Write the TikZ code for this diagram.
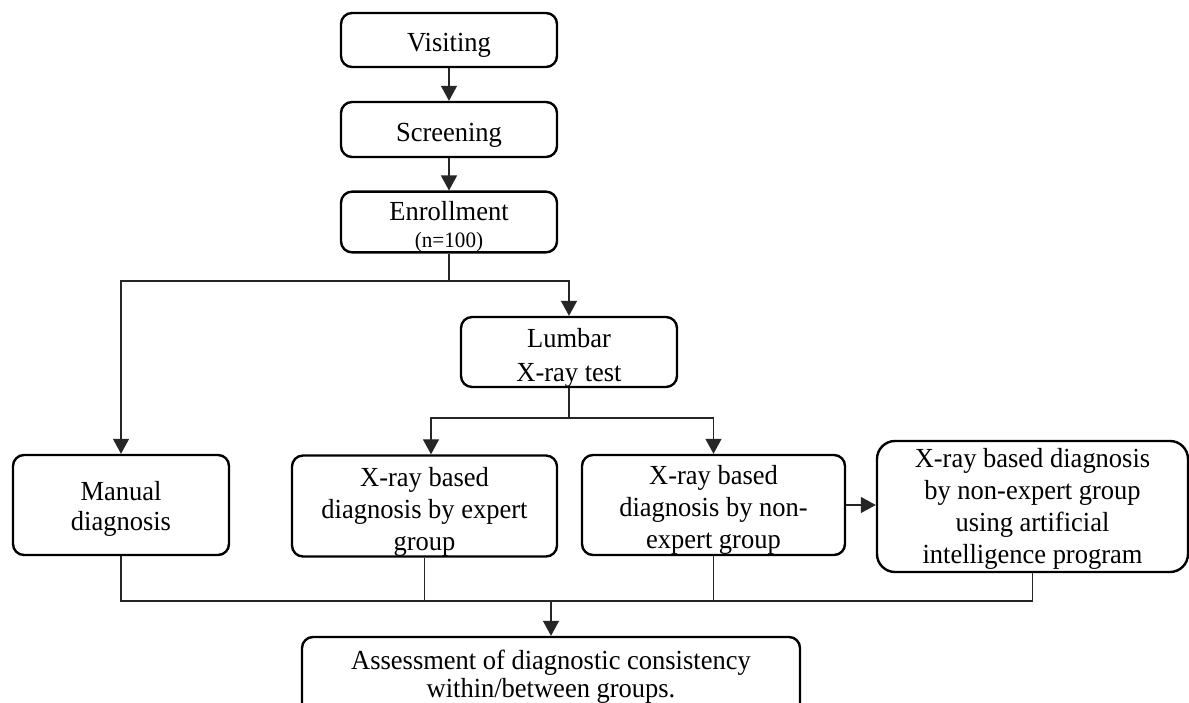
\documentclass[tikz,border=0pt]{standalone}
\usepackage{fontspec}
\setmainfont[FakeStretch=0.96]{Liberation Serif}
\usetikzlibrary{arrows.meta,calc}
\newcommand{\sdn}[1]{\rule{0pt}{#1}}
\begin{document}
\begin{tikzpicture}[x=1pt,y=1pt,
  box/.style={draw=black, line width=2.4pt, rounded corners=11pt, align=center, inner sep=0pt,
    font=\fontsize{27.6}{32}\selectfont},
  conn/.style={draw=black!85, line width=1.3pt},
  arr/.style={conn, -{Triangle[length=15pt,width=16pt]}}
]
\useasboundingbox (0,0) rectangle (1189,-703);
\fill[white] (0,0) rectangle (1189,-703);
\begin{scope}
\clip (0,0) rectangle (1189,-703);
\node[box, minimum width=216pt, minimum height=54pt] (visit) at (449,-40) {\sdn{29pt}Visiting};
\node[box, minimum width=216pt, minimum height=55pt] (screen) at (449,-129.5) {\sdn{30pt}Screening};
\node[box, minimum width=216pt, minimum height=58pt] (enroll) at (449,-222)
  {\sdn{29pt}Enrollment\\[-5pt]{\fontsize{22}{24}\selectfont (n=100)}};
\node[box, minimum width=216pt, minimum height=68pt, font=\fontsize{27.6}{34}\selectfont] (lumbar) at (569,-352) {\sdn{30pt}Lumbar\\X-ray test};
\node[box, minimum width=216pt, minimum height=100pt, font=\fontsize{27.6}{30}\selectfont] (manual) at (121,-505) {\sdn{27pt}Manual\\diagnosis};
\node[box, minimum width=265pt, minimum height=98pt] (expert) at (424.5,-506) {\sdn{31pt}X-ray based\\diagnosis by expert\\group};
\node[box, minimum width=263pt, minimum height=100pt] (nonexp) at (713.5,-505) {\sdn{29pt}X-ray based\\diagnosis by non-\\expert group};
\node[box, minimum width=311pt, minimum height=131pt, rounded corners=18pt] (ai) at (1032.5,-506.5)
  {\sdn{23pt}X-ray based diagnosis\\by non-expert group\\using artificial\\intelligence program};
\node[box, minimum width=498pt, minimum height=80pt, font=\fontsize{27.6}{28}\selectfont] (assess) at (551,-677)
  {Assessment of diagnostic consistency\\within/between groups.};

\coordinate (j1) at (449,-281);
\coordinate (j2) at (569,-418);
\coordinate (j3) at (551,-601);

\draw[arr] (visit.south) -- (screen.north);
\draw[arr] (screen.south) -- (enroll.north);
\draw[conn] (enroll.south) -- (j1);
\draw[arr] (j1) -| (manual.north);
\draw[arr] (j1) -| (lumbar.north);
\draw[conn] (lumbar.south) -- (j2);
\draw[arr] (j2) -| ([xshift=6.5pt]expert.north);
\draw[arr] (j2) -| (nonexp.north);
\draw[arr] (nonexp.east) -- (nonexp.east -| ai.west);
\draw[conn] (manual.south) |- (j3);
\draw[conn] (ai.south) |- (j3);
\draw[conn] (expert.south) -- (expert.south |- j3);
\draw[conn] (nonexp.south) -- (nonexp.south |- j3);
\draw[arr] (j3) -- (assess.north);
\end{scope}
\end{tikzpicture}
\end{document}
